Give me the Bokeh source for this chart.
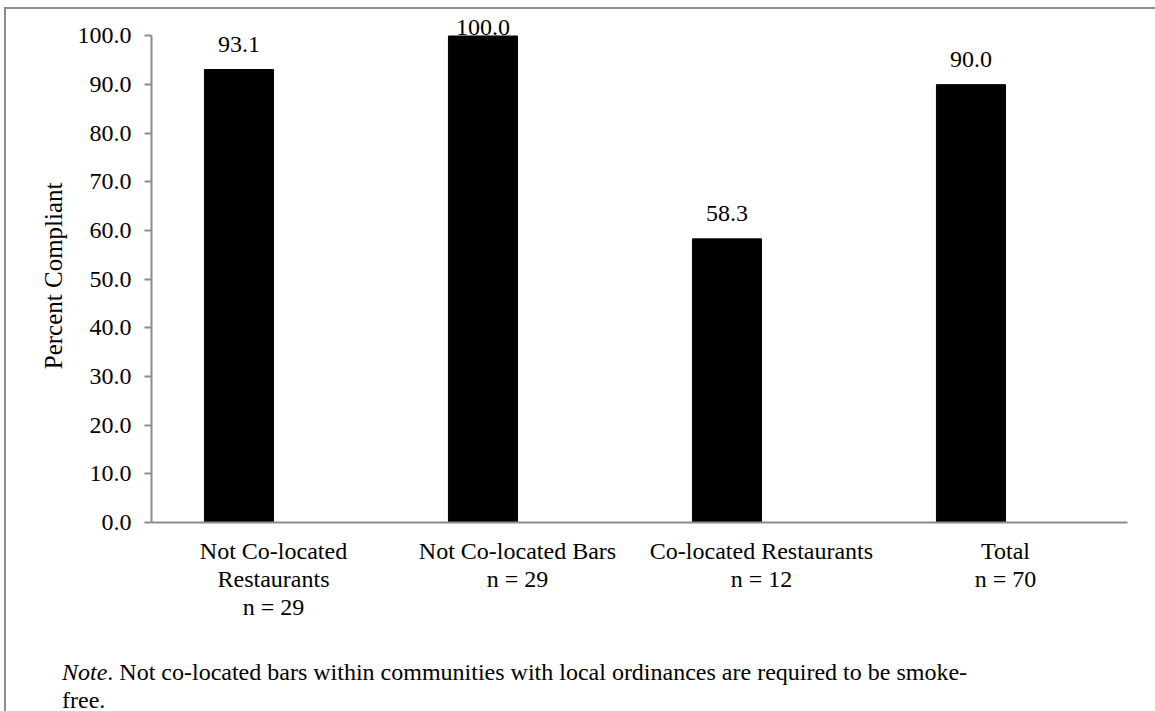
from bokeh.plotting import figure
from bokeh.layouts import column
from bokeh.models import (FactorRange, Range1d, FixedTicker, PrintfTickFormatter,
                          ColumnDataSource, Div)
from bokeh.transform import dodge
from bokeh.core.properties import value
from bokeh.embed import file_html
from bokeh.resources import INLINE

# Compliance by venue type
categories = ["Not Co-located\nRestaurants", "Not Co-located Bars",
              "Co-located Restaurants", "Total"]
sample_sizes = [29, 29, 12, 70]
percent_compliant = [93.1, 100.0, 58.3, 90.0]
y_ticks = [0, 10, 20, 30, 40, 50, 60, 70, 80, 90, 100]
y_max = 100
y_label = "Percent Compliant"
note_lead = "Note"
note_body = (". Not co-located bars within communities with local ordinances "
             "are required to be smoke-")
note_tail = "free."

FONT = "Liberation Serif"
GRAY = "#8c8c8c"

# page geometry: a framed sheet offset from the window edge
OFF_X, OFF_Y, RULE = 4, 7, 2
PAGE_W, PAGE_H = 1155, 711
FIG_W = PAGE_W - OFF_X - RULE
FIG_H = 641
NOTE_H = PAGE_H - OFF_Y - RULE - FIG_H

B_LEFT, B_RIGHT, B_TOP, B_BOTTOM = 145, 28, 1, 128
Y_TOP = 105.24
frame_h = FIG_H - B_TOP - B_BOTTOM
px_per_unit = frame_h / Y_TOP

factors = [f"{c}\nn = {n}" for c, n in zip(categories, sample_sizes)]
value_text = [f"{v:.1f}" for v in percent_compliant]
# lift each value label above its bar, but keep it inside the axis maximum
BASELINE_FIX = 8
lift = [-(min(17.0, (y_max - v) * px_per_unit) + BASELINE_FIX)
        for v in percent_compliant]

src = ColumnDataSource(dict(cat=factors, pct=percent_compliant,
                            txt=value_text, lift=lift))

p = figure(width=FIG_W, height=FIG_H, x_range=FactorRange(*factors),
           y_range=Range1d(0, Y_TOP), output_backend="svg",
           toolbar_location=None, min_border_left=B_LEFT,
           min_border_right=B_RIGHT, min_border_top=B_TOP,
           min_border_bottom=B_BOTTOM)
p.outline_line_color = None
p.grid.visible = False
p.background_fill_color = "white"
p.border_fill_color = "white"

BAR_W = 0.283
bar_x = dodge("cat", -BAR_W / 2, range=p.x_range)
p.vbar(x=bar_x, top="pct", width=BAR_W, bottom=0, source=src,
       fill_color="black", line_color="black")
p.text(x=bar_x, y="pct", text="txt", y_offset="lift", source=src,
       text_align="center", text_baseline="alphabetic",
       text_font=value(FONT), text_font_size="24px", text_color="black")

ya = p.yaxis[0]
ya.ticker = FixedTicker(ticks=y_ticks)
ya.formatter = PrintfTickFormatter(format="%.1f")
ya.bounds = (0, y_max)
# trailing no-break spaces nudge the rotated title down to the 0-100 span
ya.axis_label = y_label + "\u00a0" * 3
ya.axis_label_text_font = FONT
ya.axis_label_text_font_style = "normal"
ya.axis_label_text_font_size = "25px"
ya.axis_label_text_color = "black"
ya.axis_label_standoff = 8
ya.major_label_text_font = FONT
ya.major_label_text_font_size = "24px"
ya.major_label_text_color = "black"
ya.major_label_standoff = 13
ya.major_tick_out = 7
ya.major_tick_in = 0
ya.minor_tick_line_color = None
ya.axis_line_color = GRAY
ya.axis_line_width = 2
ya.major_tick_line_color = GRAY
ya.major_tick_line_width = 2

xa = p.xaxis[0]
xa.major_label_text_font = FONT
xa.major_label_text_font_size = "24px"
xa.major_label_text_color = "black"
xa.major_label_text_line_height = 1.08
xa.major_label_standoff = 9
xa.major_tick_line_color = None
xa.minor_tick_line_color = None
xa.axis_line_color = GRAY
xa.axis_line_width = 2

note = Div(text=f"<i>{note_lead}</i>{note_body}<br>{note_tail}",
           width=FIG_W, height=NOTE_H,
           styles={"font-family": FONT, "font-size": "24px",
                   "line-height": "28px", "color": "black",
                   "padding-left": "56px", "padding-top": "8px",
                   "margin": "0", "background": "white",
                   "box-sizing": "border-box", "overflow": "visible"})

page = column(p, note, spacing=0,
              styles={"margin-left": f"{OFF_X}px", "margin-top": f"{OFF_Y}px",
                      "border-left": f"{RULE}px solid {GRAY}",
                      "border-top": f"{RULE}px solid {GRAY}",
                      "background": "white"})

open("out.html", "w").write(file_html(page, INLINE))
